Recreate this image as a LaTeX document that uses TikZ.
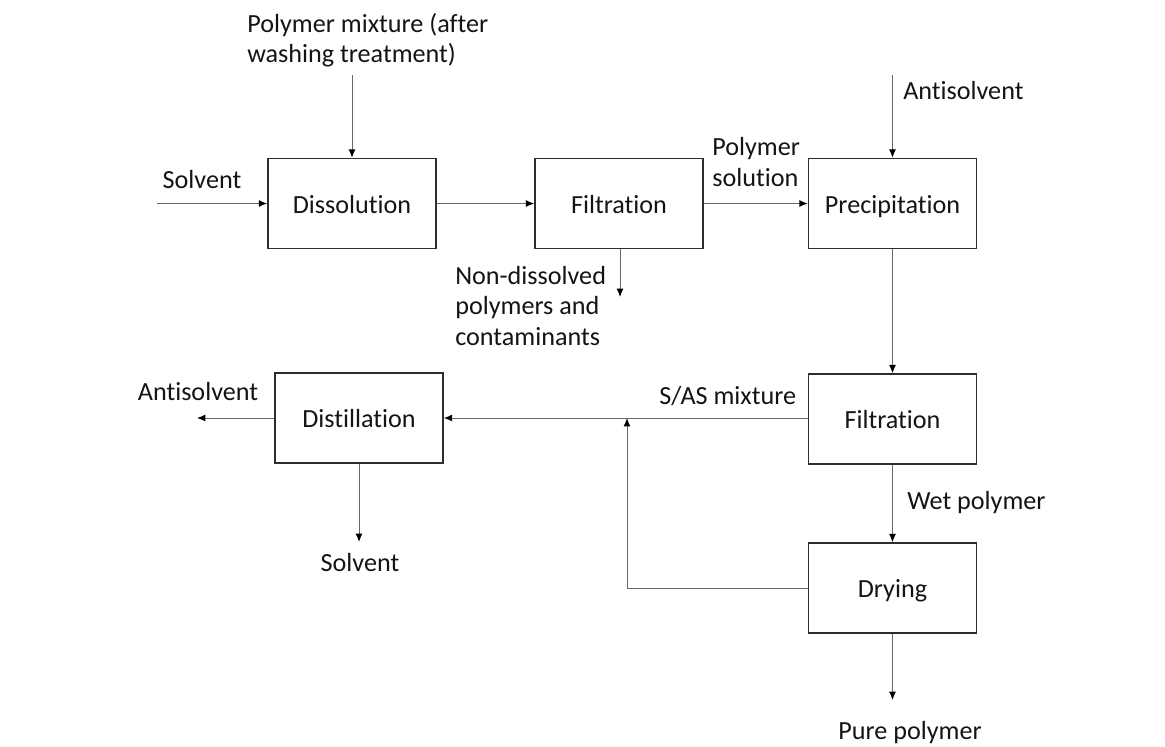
\documentclass[tikz,border=0pt]{standalone}
\usepackage{fontspec}
\setmainfont{Carlito}[Ligatures={NoCommon,NoRare,NoContextual}]
\usepackage{xcolor}
\usetikzlibrary{arrows.meta}
\definecolor{box}{RGB}{45, 45, 45}
\definecolor{flow}{RGB}{105, 105, 105}
\definecolor{txt}{RGB}{20, 20, 20}

\tikzset{
  unit/.style={draw=box, line width=1.1pt, minimum width=4.2cm, minimum height=2.25cm,
    text height=14.5pt, text depth=0.5pt,
    font=\fontsize{18.6}{21.4}\selectfont, text=txt},
  lbl/.style={font=\fontsize{18.6}{21.4}\selectfont, text=txt, align=left, inner sep=0pt},
  flowline/.style={draw=flow, line width=0.7pt},
  flowarrow/.style={flowline, -{Latex[length=6pt, width=5pt, color=black]}}
}

\begin{document}
\begin{tikzpicture}[x=0.025cm, y=-0.025cm]
      \useasboundingbox (0, 0) rectangle (1165, 746);
      \node[unit](diss) at (352, 203.5) {Dissolution};
      \node[unit](filt) at (619, 203.5) {Filtration};
      \node[unit](prec) at (892.5, 203.5) {Precipitation};
      \node[unit](filtb) at (892.5, 419) {Filtration};
      \node[unit](dry) at (892.5, 588) {Drying};
      \node[unit](dist) at (359, 418) {Distillation};
      \node[lbl, anchor=west](mixlbl) at (247, 40) {Polymer mixture (after\\washing treatment)};
      \node[lbl](solvlbl) at (202, 180) {Solvent};
      \node[lbl, anchor=west](junklbl) at (455, 306) {Non-dissolved\\polymers and\\contaminants};
      \node[lbl, anchor=west](sollbl) at (712, 162) {Polymer\\solution};
      \node[lbl, anchor=west](antilbl) at (903, 91) {Antisolvent};
      \node[lbl, anchor=west](saslbl) at (659, 396) {S/AS mixture};
      \node[lbl, anchor=west](wetlbl) at (907, 503) {Wet polymer};
      \node[lbl](purelbl) at (910, 733) {Pure polymer};
      \node[lbl](antioutlbl) at (198, 392) {Antisolvent};
      \node[lbl](solvoutlbl) at (360, 563) {Solvent};
      \coordinate (mixin) at (352, 75);
      \coordinate (solvin) at (157, 203.5);
      \coordinate (junkout) at (620, 297);
      \coordinate (antiin) at (892.5, 75);
      \coordinate (pureout) at (892.5, 700);
      \coordinate (antiout) at (197, 418);
      \coordinate (solvout) at (359, 542);
      \coordinate (joint) at (627, 418);
      \coordinate (bend) at (627, 588);
      \draw[flowarrow] (mixin)--(diss);
      \draw[flowarrow] (solvin)--(diss);
      \draw[flowarrow] (diss)--(filt);
      \draw[flowarrow] (filt.south -| junkout)--(junkout);
      \draw[flowarrow] (filt)--(prec);
      \draw[flowarrow] (antiin)--(prec);
      \draw[flowarrow] (prec)--(filtb);
      \draw[flowarrow] (filtb)--(dry);
      \draw[flowarrow] (dry)--(pureout);
      \draw[flowarrow] (filtb.west |- dist)--(dist);
      \draw[flowarrow] (dist)--(antiout);
      \draw[flowarrow] (dist)--(solvout);
      \draw[flowline] (dry.west)--(bend);
      \draw[flowarrow] (bend)--(joint);
    \end{tikzpicture}
\end{document}
